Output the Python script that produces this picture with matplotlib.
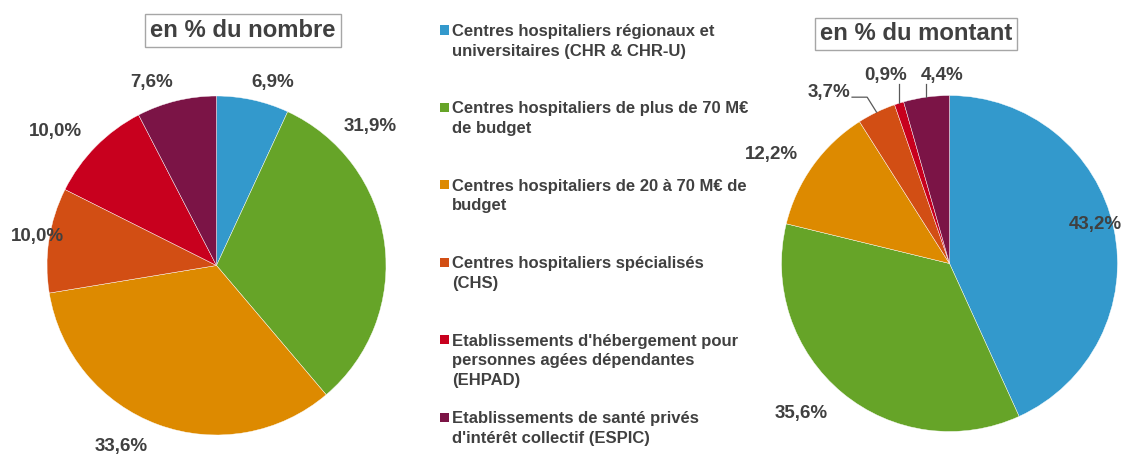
import matplotlib
matplotlib.use("Agg")
from matplotlib import pyplot as plt
from matplotlib.patches import Rectangle
import numpy as np

plt.rcParams['font.family'] = ['Liberation Sans', 'DejaVu Sans']

categories = [
    "Centres hospitaliers régionaux et\nuniversitaires (CHR & CHR-U)",
    "Centres hospitaliers de plus de 70 M€\nde budget",
    "Centres hospitaliers de 20 à 70 M€ de\nbudget",
    "Centres hospitaliers spécialisés\n(CHS)",
    "Etablissements d'hébergement pour\npersonnes agées dépendantes\n(EHPAD)",
    "Etablissements de santé privés\nd'intérêt collectif (ESPIC)",
]
pct_nombre = [6.9, 31.9, 33.6, 10.0, 10.0, 7.6]
pct_montant = [43.2, 35.6, 12.2, 3.7, 0.9, 4.4]
titles = ["en % du nombre", "en % du montant"]

colors = ['#3399cc', '#66a428', '#dd8a00', '#d24e14', '#c8001e', '#7b1446']
text_col = '#404040'

# label positions, in pie radius units
pos_nombre = [(0.33, 1.08), (0.905, 0.82), (-0.56, -1.07),
              (-1.056, 0.17), (-0.95, 0.79), (-0.38, 1.08)]
pos_montant = [(0.87, 0.23), (-0.88, -0.89), (-1.06, 0.65),
               (-0.72, 1.02), (-0.38, 1.12), (-0.045, 1.12)]

W, H = 1126, 455
fig = plt.figure(figsize=(W / 100, H / 100), dpi=100)


def fmt(v):
    return f"{v:.1f}".replace('.', ',') + '%'


def draw_pie(cx, cy, r, vals, positions):
    ax = fig.add_axes([(cx - r) / W, (H - cy - r) / H, 2 * r / W, 2 * r / H])
    wedges, _ = ax.pie(vals, colors=colors, startangle=90, counterclock=False,
                       radius=1, wedgeprops=dict(edgecolor='white', linewidth=0.3))
    ax.set_xlim(-1, 1)
    ax.set_ylim(-1, 1)
    ax.axis('off')
    for v, (x, y) in zip(vals, positions):
        ax.text(x, y, fmt(v), ha='center', va='center', fontsize=13.5,
                fontweight='bold', color=text_col, clip_on=False)
    return ax, wedges


ax1, w1 = draw_pie(216.5, 265.5, 169.5, pct_nombre, pos_nombre)
ax2, w2 = draw_pie(949.5, 263.5, 168, pct_montant, pos_montant)

# leader lines for the small slices on the right pie
lc = '#595959'
for i, ends in [(3, [(-0.49, 0.99), (-0.58, 0.99)]), (4, [(-0.30, 1.07)]), (5, [(-0.138, 1.07)])]:
    w = w2[i]
    ang = np.deg2rad((w.theta1 + w.theta2) / 2)
    xs = [np.cos(ang)] + [e[0] for e in ends]
    ys = [np.sin(ang)] + [e[1] for e in ends]
    if len(ends) == 1:
        xs[1] = xs[0]
    ax2.plot(xs, ys, color=lc, lw=0.9, clip_on=False)

# titles in boxes
fig.text(243 / W, 1 - 30.5 / H, titles[0], ha='center', va='center', fontsize=17.2,
         fontweight='bold', color=text_col,
         bbox=dict(boxstyle='square,pad=0.2', fc='white', ec='#a6a6a6', lw=1))
fig.text(916 / W, 1 - 34 / H, titles[1], ha='center', va='center', fontsize=17.2,
         fontweight='bold', color=text_col,
         bbox=dict(boxstyle='square,pad=0.2', fc='white', ec='#a6a6a6', lw=1))

# legend drawn by hand, evenly spaced entries
y0, step = 30, 77.4
for i, lab in enumerate(categories):
    y = y0 + i * step
    fig.patches.append(Rectangle((440 / W, 1 - (y + 4.5) / H), 9 / W, 9 / H,
                                 transform=fig.transFigure, fc=colors[i], ec='none'))
    fig.text(452 / W, 1 - (y - 6) / H, lab, ha='left', va='top', fontsize=12,
             fontweight='bold', color=text_col, linespacing=1.38)

fig.savefig("out.png", dpi=100)
